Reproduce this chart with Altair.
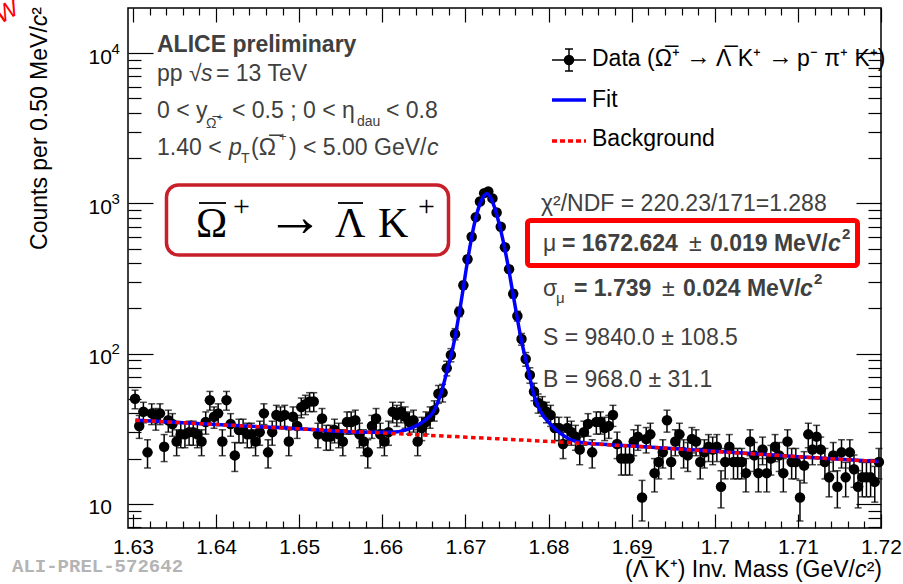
import altair as alt
import pandas as pd

# ---------------- data ----------------
BIN_LO = 1.63
BIN_W = 0.0005
COUNTS = [
    50, 33, 41, 22, 40, 37, 40, 24, 36, 34,
    26, 29, 29, 30, 30, 29, 26, 35, 49, 38,
    40, 26, 49, 34, 21, 31, 31, 29, 29, 26,
    30, 40, 22, 30, 39, 38, 39, 26, 38, 33,
    44, 46, 48, 48, 29, 37, 28, 28, 31, 29,
    26, 35, 35, 36, 29, 26, 22, 33, 37, 29,
    26, 30, 41, 39, 41, 38, 35, 36, 26, 32,
    35, 38, 42, 54, 55, 80, 98, 135, 190, 285,
    425, 600, 810, 1030, 1170, 1200, 1080, 870, 700, 510,
    365, 250, 178, 125, 92, 72, 56, 47, 45, 41,
    39, 32, 32, 25, 32, 30, 28, 23, 30, 34,
    22, 35, 35, 32, 33, 39, 25, 20, 20, 20,
    26, 28, 11, 27, 29, 16, 19, 22, 36, 19,
    26, 29, 22, 21, 27, 26, 19, 22, 24, 23,
    24, 13, 19, 24, 19, 19, 19, 16, 26, 21,
    16, 23, 16, 20, 24, 21, 16, 26, 19, 19,
    11, 18, 29, 23, 28, 23, 19, 15, 21, 13,
    22, 15, 22, 17, 13, 15, 15, 15, 14, 19,
]
MASS = [round(BIN_LO + BIN_W * (i + 0.5), 5) for i in range(len(COUNTS))]

FIT_X = [1.6303, 1.640, 1.650, 1.658, 1.661, 1.6634, 1.6650, 1.6662, 1.6670,
         1.6678, 1.6686, 1.6695, 1.6703, 1.6710, 1.6718, 1.6726, 1.6733,
         1.6742, 1.6750, 1.6758, 1.6767, 1.6775, 1.6782, 1.6790, 1.6802,
         1.6814, 1.6826, 1.6840, 1.6860, 1.690, 1.700, 1.710, 1.7197]
FIT_Y = [36.0, 33.7, 31.6, 30.0, 30.0, 31.8, 35.5, 41.5, 53, 77, 117, 225,
         430, 700, 1010, 1165, 1010, 680, 420, 236, 125, 80, 54, 41.5, 34,
         29.5, 26.8, 25.6, 25.0, 24.3, 22.4, 20.6, 19.1]

BG_X = [1.6303, 1.645, 1.660, 1.675, 1.690, 1.705, 1.7197]
BG_Y = [36.0, 32.6, 29.6, 26.9, 24.2, 21.4, 19.1]

X_LABEL_TICKS = [1.63, 1.64, 1.65, 1.66, 1.67, 1.68, 1.69, 1.70, 1.71, 1.72]
X_MINOR = [round(1.63 + 0.002 * k, 3) for k in range(1, 46) if k % 5]
Y_MAJOR = [10, 100, 1000, 10000]
Y_EXP = [100, 1000, 10000]
Y_MINOR = [7, 8, 9] + [d * m for m in (10, 100, 1000) for d in range(2, 10)]

# ---------------- layout ----------------
W, H = 753, 520
PL, PT, PR, PB = 128, 8, 22, 56
SANS = "Liberation Sans"
SERIF = "Liberation Serif"
GREY = "#404040"

XS = alt.Scale(domain=[1.6294, 1.72], nice=False, zero=False)
YS = alt.Scale(type="log", domain=[6.9, 20000], nice=False)

data = pd.DataFrame({"m": MASS, "c": COUNTS})
fit = pd.DataFrame({"m": FIT_X, "c": FIT_Y})
bg = pd.DataFrame({"m": BG_X, "c": BG_Y})
dummy = pd.DataFrame({"m": [1.67], "c": [100.0]})
ONE = alt.Data(values=[{"a": 0}])

x_lab_axis = alt.Axis(orient="bottom", values=X_LABEL_TICKS, format=".3~g",
                      labelFont=SANS, labelFontSize=21, labelColor="black",
                      labelPadding=25, labelBaseline="alphabetic", ticks=False,
                      tickSize=0, domain=False, grid=False, title=None,
                      labelFlush=False, labelOverlap=False)
y_lab_axis = alt.Axis(orient="left", values=Y_MAJOR, labelExpr="'10'",
                      labelFont=SANS, labelFontSize=21, labelColor="black",
                      labelAlign="left", labelPadding=40, labelBaseline="alphabetic",
                      labelOffset=10, ticks=False, tickSize=0, domain=False,
                      grid=False, title=None, labelFlush=False, labelOverlap=False)
y_exp_axis = alt.Axis(orient="left", values=Y_EXP,
                      labelExpr="datum.value < 500 ? '2' : datum.value < 5000 ? '3' : '4'",
                      labelFont=SANS, labelFontSize=15, labelColor="black",
                      labelAlign="left", labelPadding=17, labelBaseline="alphabetic",
                      labelOffset=0, ticks=False, tickSize=0, domain=False,
                      grid=False, title=None, labelFlush=False, labelOverlap=False)

XN = alt.X("m:Q", scale=XS, axis=None)

base = alt.Chart(data).transform_calculate(
    lo="datum.c - sqrt(datum.c)", hi="datum.c + sqrt(datum.c)")
errs = base.mark_rule(color="black", strokeWidth=1.5).encode(
    x=XN, y=alt.Y("lo:Q", scale=YS, axis=None), y2="hi:Q")
cap_hi = base.mark_tick(orient="horizontal", size=7, thickness=1.5, color="black").encode(
    x=XN, y=alt.Y("hi:Q", scale=YS, axis=None))
cap_lo = base.mark_tick(orient="horizontal", size=7, thickness=1.5, color="black").encode(
    x=XN, y=alt.Y("lo:Q", scale=YS, axis=None))
dots = alt.Chart(data).mark_circle(size=110, color="black", opacity=1).encode(
    x=alt.X("m:Q", scale=XS, axis=x_lab_axis),
    y=alt.Y("c:Q", scale=YS, axis=y_lab_axis))
exp_labels = alt.Chart(dummy).mark_point(opacity=0).encode(
    x=alt.X("m:Q", scale=XS, axis=None),
    y=alt.Y("c:Q", scale=YS, axis=y_exp_axis))
fit_line = alt.Chart(fit).mark_line(color="#0000ff", strokeWidth=3.5,
                                    interpolate="monotone").encode(
    x=XN, y=alt.Y("c:Q", scale=YS, axis=None))
bg_line = alt.Chart(bg).mark_line(color="#ff0000", strokeWidth=3.5,
                                  strokeDash=[4.5, 3.5], interpolate="monotone").encode(
    x=XN, y=alt.Y("c:Q", scale=YS, axis=None))


def tick_layer(channel, orient, values, size):
    ax = alt.Axis(orient=orient, values=values, tickSize=size, offset=-size,
                  labels=False, domain=False, grid=False, title=None, ticks=True,
                  tickColor="black", tickWidth=1.2)
    if channel == "x":
        enc = dict(x=alt.X("m:Q", scale=XS, axis=ax), y=alt.Y("c:Q", scale=YS, axis=None))
    else:
        enc = dict(x=alt.X("m:Q", scale=XS, axis=None), y=alt.Y("c:Q", scale=YS, axis=ax))
    return alt.Chart(dummy).mark_point(opacity=0).encode(**enc)


ticks = [
    tick_layer("x", "bottom", X_LABEL_TICKS, 14),
    tick_layer("x", "bottom", X_MINOR, 7),
    tick_layer("x", "top", X_LABEL_TICKS, 14),
    tick_layer("x", "top", X_MINOR, 7),
    tick_layer("y", "left", Y_MAJOR, 25),
    tick_layer("y", "left", Y_MINOR, 13),
    tick_layer("y", "right", Y_MAJOR, 25),
    tick_layer("y", "right", Y_MINOR, 13),
]


def T(x, y, s, size=23, color=GREY, weight="normal", style="normal", font=SANS,
      align="left", angle=0):
    mk = dict(text=s, align=align, baseline="alphabetic", font=font, fontSize=size,
              fontWeight=weight, fontStyle=style, color=color)
    if angle:
        mk["angle"] = angle
    return alt.Chart(ONE).mark_text(**mk).encode(x=alt.value(x - PL), y=alt.value(y - PT))


def R(x1, y1, x2, y2, color="black", width=1.5, dash=None):
    mk = dict(color=color, strokeWidth=width)
    if dash:
        mk["strokeDash"] = dash
    return alt.Chart(ONE).mark_rule(**mk).encode(
        x=alt.value(x1 - PL), x2=alt.value(x2 - PL),
        y=alt.value(y1 - PT), y2=alt.value(y2 - PT))


def B(x1, y1, x2, y2, color, width, radius):
    return alt.Chart(ONE).mark_rect(fillOpacity=0, stroke=color, strokeWidth=width,
                                    cornerRadius=radius).encode(
        x=alt.value(x1 - PL), x2=alt.value(x2 - PL),
        y=alt.value(y1 - PT), y2=alt.value(y2 - PT))


OV = "\u0305"
notes = [
    # left info block
    T(157, 52, "ALICE preliminary", weight="bold"),
    T(157, 81, "pp √"),
    T(201, 81, "s", style="italic"),
    T(216, 81, "= 13 TeV"),
    T(157, 118, "0 < y"),
    T(206, 128, "Ω" + OV, size=14),
    T(217, 121, "+", size=10),
    T(232, 118, "< 0.5 ; 0 < η"),
    T(357, 126, "dau", size=14),
    T(386, 118, "< 0.8"),
    T(157, 155, "1.40 <"),
    T(229, 155, "p", style="italic"),
    T(241, 163, "T", size=14),
    T(251, 155, "(Ω" + OV),
    T(279, 141, "+", size=13),
    T(289, 155, ") < 5.00 GeV/"),
    T(427, 155, "c", style="italic"),
    # decay box
    B(166.5, 185, 448.5, 255, "#c8202a", 3.5, 12),
    T(196, 237, "Ω", size=42, font=SERIF, color="black"),
    R(199, 203, 226, 203, width=1.8),
    T(233, 216, "+", size=30, font=SERIF, color="black"),
    T(266, 236, "→", size=58, font=SERIF, color="black"),
    T(335, 237, "Λ", size=42, font=SERIF, color="black"),
    R(338, 203, 363, 203, width=1.8),
    T(378, 237, "K", size=42, font=SERIF, color="black"),
    T(418, 216, "+", size=30, font=SERIF, color="black"),
    # fit statistics
    T(541, 211, "χ²/NDF = 220.23/171=1.288"),
    B(527.5, 220.5, 857.5, 265.5, "#ff0000", 5, 3),
    T(543, 251, "μ"),
    T(562, 251, "= 1672.624", weight="bold"),
    T(689, 251, "±"),
    T(710, 251, "0.019 MeV/", weight="bold"),
    T(828, 251, "c", weight="bold", style="italic"),
    T(842, 239, "2", size=15, weight="bold"),
    T(543, 296, "σ"),
    T(556, 303, "μ", size=15),
    T(574, 296, "= 1.739", weight="bold"),
    T(662, 296, "±"),
    T(683, 296, "0.024 MeV/", weight="bold"),
    T(800, 296, "c", weight="bold", style="italic"),
    T(814, 284, "2", size=15, weight="bold"),
    T(543, 345, "S = 9840.0 ± 108.5"),
    T(543, 387, "B = 968.0 ± 31.1"),
    # legend
    R(552, 60, 586, 60),
    R(569, 49, 569, 71),
    R(565, 49, 573, 49),
    R(565, 71, 573, 71),
    alt.Chart(ONE).mark_circle(size=110, color="black", opacity=1).encode(
        x=alt.value(569 - PL), y=alt.value(60 - PT)),
    T(592, 66, "Data (Ω" + OV + "⁺", color="black"),
    T(686, 65, "→", size=25, font=SERIF, color="black"),
    T(716, 66, "Λ" + OV + " K⁺", color="black"),
    T(768, 65, "→", size=25, font=SERIF, color="black"),
    T(797, 66, "p⁻ π⁺ K⁺)", color="black"),
    R(552, 100, 586, 100, "#0000ff", 3.5),
    T(592, 107, "Fit", color="black"),
    R(552, 141, 586, 141, "#ff0000", 3.5, dash=[5, 3]),
    T(592, 146, "Background", color="black"),
    # axis titles
    T(882, 577, ")", color="black", align="right"),
    T(874.3, 577, "²", color="black", align="right"),
    T(866.6, 577, "c", color="black", style="italic", align="right"),
    T(855, 577, "(Λ" + OV + " K⁺) Inv. Mass (GeV/", color="black", align="right"),
    T(47, 7, "²", color="black", align="right", angle=270),
    T(47, 14.7, "c", color="black", style="italic", align="right", angle=270),
    T(47, 26.2, "Counts per 0.50 MeV/", color="black", align="right", angle=270),
    # watermark
    T(12, 572, "ALI-PREL-572642", size=19, weight="bold", font="Liberation Mono",
      color="#b4b4b4"),
    T(1, 24, "W", size=24, color="#ff0000", style="italic", angle=330),
]

chart = alt.layer(
    errs, cap_hi, cap_lo, dots, exp_labels, fit_line, bg_line, *ticks, *notes
).resolve_axis(x="independent", y="independent").properties(
    width=W, height=H,
    padding={"left": PL, "top": PT, "right": PR, "bottom": PB},
    autosize=alt.AutoSizeParams(type="none"),
    background="white",
).configure_view(stroke="black", strokeWidth=1.5)

chart.save("out.html", embed_options={"renderer": "svg", "actions": False})
